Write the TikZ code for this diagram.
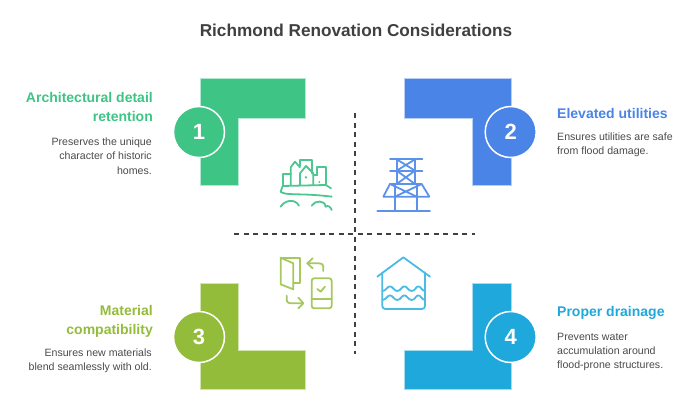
\documentclass[tikz,border=0pt]{standalone}
\usepackage{fontspec}
\setmainfont{Liberation Sans}
\definecolor{cgreen}{HTML}{3EC585}
\definecolor{cblue}{HTML}{4A84E6}
\definecolor{colive}{HTML}{93BC3A}
\definecolor{ccyan}{HTML}{1EA8DB}
\definecolor{igreen}{HTML}{4CC78F}
\definecolor{iblue}{HTML}{5C92E8}
\definecolor{iolive}{HTML}{A6C85F}
\definecolor{icyan}{HTML}{4BBBE3}
\definecolor{titlegray}{HTML}{404040}
\definecolor{bodygray}{HTML}{4A4A4A}
\tikzset{
  lshape/.style={fill=#1, draw=#1!40, line width=0.8pt},
  numdisc/.style={circle, minimum size=51pt, inner sep=0pt, fill=#1, draw=white, line width=1.5pt,
     text=white, font=\fontsize{22}{24}\selectfont\bfseries},
  head/.style={text=#1, font=\fontsize{14}{19}\selectfont\bfseries, inner sep=0pt},
  body/.style={text=bodygray, font=\fontsize{10.6}{14.1}\selectfont, inner sep=0pt},
  axis/.style={draw=titlegray, line width=1.3pt, dash pattern=on 5pt off 4.5pt},
  icon/.style={draw=#1, line width=1.8pt, line cap=round, line join=round, fill=none},
}
\begin{document}
\begin{tikzpicture}[x=1pt,y=-1pt]
\useasboundingbox (0,0) rectangle (700,413);
\node[text=titlegray, font=\fontsize{17.2}{20}\selectfont\bfseries, inner sep=0pt] (title) at (356,30) {Richmond Renovation Considerations};

% axes
\coordinate (vtop) at (355,113); \coordinate (vbot) at (355,354);
\coordinate (hl) at (234,234); \coordinate (hr) at (475,234);
\draw[axis] (vtop) -- (vbot);
\draw[axis] (hl) -- (hr);

% L shapes
\draw[lshape=cgreen] (200,78.5) -- (305.5,78.5) -- (305.5,118.5) -- (238,118.5) -- (238,185) -- (200,185) -- cycle;
\draw[lshape=cblue] (404,78.5) -- (511,78.5) -- (511,185) -- (472,185) -- (472,118.5) -- (404,118.5) -- cycle;
\draw[lshape=colive] (200,283) -- (238,283) -- (238,350) -- (305.5,350) -- (305.5,389.5) -- (200,389.5) -- cycle;
\draw[lshape=ccyan] (472,283) -- (511,283) -- (511,389.5) -- (404,389.5) -- (404,350) -- (472,350) -- cycle;

% number discs
\node[numdisc=cgreen] (n1) at (199,132) {1};
\node[numdisc=cblue] (n2) at (510.7,132) {2};
\node[numdisc=colive] (n3) at (199,337) {3};
\node[numdisc=ccyan] (n4) at (510.7,337) {4};

% texts
\node[head=cgreen, align=right, anchor=north east] (h1) at (153,92) {Architectural detail\\retention};
\node[body, align=right, anchor=north east] (b1) at (152,138) {Preserves the unique\\character of historic\\homes.};
\node[head=cblue, align=left, anchor=north west] (h2) at (557,108) {Elevated utilities};
\node[body, align=left, anchor=north west] (b2) at (557,133) {Ensures utilities are safe\\from flood damage.};
\node[head=colive, align=right, anchor=north east] (h3) at (153,305) {Material\\compatibility};
\node[body, align=right, anchor=north east] (b3) at (152,349) {Ensures new materials\\blend seamlessly with old.};
\node[head=ccyan, align=left, anchor=north west] (h4) at (557,306) {Proper drainage};
\node[body, align=left, anchor=north west] (b4) at (557,333) {Prevents water\\accumulation around\\flood-prone structures.};

% icon 1: historic town
\begin{scope}[shift={(160,60)}, x=0.3333pt, y=-0.3333pt]
\draw[icon=igreen] (370,375) -- (370,343) -- (392,343);
\draw[icon=igreen] (392,375) -- (392,322) -- (405,305) -- (420,322);
\draw[icon=igreen] (420,318) -- (420,300) -- (457,300) -- (457,340);
\draw[icon=igreen] (420,375) -- (420,340) -- (438,318) -- (460,340) -- (460,375);
\draw[icon=igreen] (472,345) -- (472,322) -- (498,322) -- (498,375);
\draw[icon=igreen] (460,345) -- (472,345);
\draw[icon=igreen] (362,395) -- (368,378) -- (498,375) -- (513,385);
\draw[icon=igreen] (362,395) .. controls (375,408) and (420,398) .. (515,410);
\draw[icon=igreen] (362,440) .. controls (375,420) and (405,415) .. (417,437);
\draw[icon=igreen] (455,437) .. controls (465,420) and (495,420) .. (497,440);
\draw[icon=igreen] (497,440) .. controls (503,435) and (512,440) .. (515,450);
\fill[igreen] (438,352) circle (4);
\fill[igreen] (478,366) circle (3);
\end{scope}

% icon 2: pylon
\begin{scope}[shift={(350,60)}, x=0.3333pt, y=-0.3333pt]
\draw[icon=iblue] (120,298) -- (217,298);
\draw[icon=iblue] (120,332) -- (217,332);
\draw[icon=iblue] (140,298) -- (140,372) (195,298) -- (195,372);
\draw[icon=iblue] (140,298) -- (195,332) (195,298) -- (140,332);
\draw[icon=iblue] (140,332) -- (195,372) (195,332) -- (140,372);
\draw[icon=iblue] (120,372) -- (215,372) -- (238,410) -- (100,410) -- cycle;
\draw[icon=iblue] (120,372) -- (200,410) (215,372) -- (135,410);
\draw[icon=iblue] (135,372) -- (135,452) (200,372) -- (200,452);
\draw[icon=iblue] (82,452) -- (240,452);
\end{scope}

% icon 3: door and phone
\begin{scope}[shift={(160,225)}, x=0.3333pt, y=-0.3333pt]
\draw[icon=iolive] (362,98) -- (420,98) -- (420,175) -- (400,175);
\draw[icon=iolive] (362,98) -- (400,115) -- (400,193) -- (362,178) -- cycle;
\draw[icon=iolive] (490,138) -- (490,128) .. controls (490,118) and (485,115) .. (475,115) -- (442,115);
\draw[icon=iolive] (458,100) -- (442,115) -- (458,130);
\draw[icon=iolive] (380,212) -- (380,222) .. controls (380,232) and (385,235) .. (395,235) -- (430,235);
\draw[icon=iolive] (415,218) -- (430,235) -- (415,250);
\draw[icon=iolive, rounded corners=2.5pt] (455,160) rectangle (515,250);
\draw[icon=iolive] (455,222) -- (515,222);
\draw[icon=iolive] (472,192) -- (482,200) -- (495,185);
\end{scope}

% icon 4: flooded house
\begin{scope}[shift={(350,225)}, x=0.3333pt, y=-0.3333pt]
\draw[icon=icyan] (82,155) -- (160,97) -- (240,155);
\draw[icon=icyan, rounded corners=3pt] (97,142) -- (97,252) -- (225,252) -- (225,142);
\foreach \y in {198,225} {
\draw[icon=icyan] (97,\y) .. controls (108,\y) and (112,\y-14) .. (120,\y-14)
  .. controls (128,\y-14) and (132,\y) .. (142,\y)
  .. controls (152,\y) and (155,\y-14) .. (163,\y-14)
  .. controls (171,\y-14) and (175,\y) .. (185,\y)
  .. controls (195,\y) and (198,\y-14) .. (205,\y-14)
  .. controls (212,\y-14) and (216,\y) .. (225,\y);
}
\end{scope}
\end{tikzpicture}
\end{document}
